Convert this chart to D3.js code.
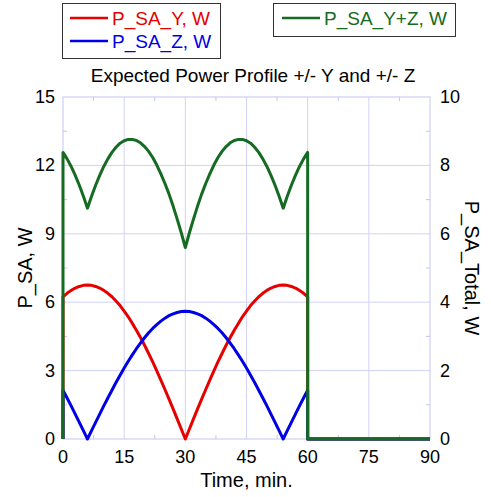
<!DOCTYPE html>
<html><head><meta charset="utf-8">
<script src="https://cdn.jsdelivr.net/npm/d3@7/dist/d3.min.js"></script>
<style>body{margin:0;background:#fff}svg{display:block}text{font-family:"Liberation Sans",Arial,sans-serif}</style>
</head><body><svg id="c" width="491" height="497"></svg>
<script>
// ---- data ----
const timeMin = [0,1,2,3,4,5,6,7,8,9,10,11,12,13,14,15,16,17,18,19,20,21,22,23,24,25,26,27,28,29,30,
  31,32,33,34,35,36,37,38,39,40,41,42,43,44,45,46,47,48,49,50,51,52,53,54,55,56,57,58,59,60];
const pY = [6.24,6.39,6.52,6.62,6.69,6.74,6.75,6.74,6.69,6.62,6.52,6.39,6.24,6.05,5.85,5.61,5.36,5.07,4.77,4.45,4.11,3.75,3.38,2.99,2.58,2.17,1.75,1.32,0.88,0.44,0,
  0.44,0.88,1.32,1.75,2.17,2.58,2.99,3.38,3.75,4.11,4.45,4.77,5.07,5.36,5.61,5.85,6.05,6.24,6.39,6.52,6.62,6.69,6.74,6.75,6.74,6.69,6.62,6.52,6.39,6.24];
const pZ = [2.14,1.80,1.45,1.09,0.73,0.37,0,0.37,0.73,1.09,1.45,1.80,2.14,2.48,2.80,3.11,3.41,3.69,3.96,4.21,4.44,4.66,4.85,5.02,5.17,5.30,5.41,5.49,5.55,5.59,5.60,
  5.59,5.55,5.49,5.41,5.30,5.17,5.02,4.85,4.66,4.44,4.21,3.96,3.69,3.41,3.11,2.80,2.48,2.14,1.80,1.45,1.09,0.73,0.37,0,0.37,0.73,1.09,1.45,1.80,2.14];
const pTotal = [8.38,8.19,7.97,7.71,7.42,7.10,6.75,7.10,7.42,7.71,7.97,8.19,8.38,8.53,8.65,8.72,8.76,8.76,8.73,8.66,8.55,8.41,8.23,8.01,7.75,7.47,7.16,6.81,6.43,6.03,5.60,
  6.03,6.43,6.81,7.16,7.47,7.75,8.01,8.23,8.41,8.55,8.66,8.73,8.76,8.76,8.72,8.65,8.53,8.38,8.19,7.97,7.71,7.42,7.10,6.75,7.10,7.42,7.71,7.97,8.19,8.38];
// power is zero before start and after the 60 min window
const offStart = [{t:0, v:0}];
const offEnd = [{t:60, v:0}, {t:90, v:0}];
const xTicks = [0,15,30,45,60,75,90];
const yLeftTicks = [0,3,6,9,12,15];
const yRightTicks = [0,2,4,6,8,10];
const seriesNames = ["P_SA_Y, W","P_SA_Z, W","P_SA_Y+Z, W"];
const colors = ["#e60000","#0000e6","#156b22"];

// ---- layout ----
const svg = d3.select("#c");
const L=63, R=430, T=97, B=439;
const x = d3.scaleLinear().domain([0,90]).range([L,R]);
const yL = d3.scaleLinear().domain([0,15]).range([B,T]);
const yR = d3.scaleLinear().domain([0,10]).range([B,T]);
const gridC = "#d2d2f6", frameC="#c4c4f2";

// grid
const g = svg.append("g");
xTicks.slice(1,-1).forEach(t=>g.append("line").attr("x1",x(t)).attr("x2",x(t)).attr("y1",T).attr("y2",B).attr("stroke",gridC).attr("stroke-width",1));
yLeftTicks.slice(1,-1).forEach(t=>g.append("line").attr("x1",L).attr("x2",R).attr("y1",yL(t)).attr("y2",yL(t)).attr("stroke",gridC).attr("stroke-width",1));
// minor ticks
const minorX = d3.range(7.5,90,15), minorY = d3.range(1.5,15,3);
minorX.forEach(t=>{g.append("line").attr("x1",x(t)).attr("x2",x(t)).attr("y1",B).attr("y2",B-4).attr("stroke",frameC);
  g.append("line").attr("x1",x(t)).attr("x2",x(t)).attr("y1",T).attr("y2",T+4).attr("stroke",frameC);});
minorY.forEach(t=>{g.append("line").attr("x1",L).attr("x2",L+4).attr("y1",yL(t)).attr("y2",yL(t)).attr("stroke",frameC);
  g.append("line").attr("x1",R).attr("x2",R-4).attr("y1",yL(t)).attr("y2",yL(t)).attr("stroke",frameC);});
g.append("rect").attr("x",L).attr("y",T).attr("width",R-L).attr("height",B-T).attr("fill","none").attr("stroke",frameC).attr("stroke-width",1);

// axes labels
const fs=18;
xTicks.forEach(t=>svg.append("text").attr("x",x(t)).attr("y",B+24).attr("text-anchor","middle").attr("font-size",fs).text(t));
yLeftTicks.forEach(t=>svg.append("text").attr("x",55).attr("y",yL(t)+6).attr("text-anchor","end").attr("font-size",fs).text(t));
yRightTicks.forEach(t=>svg.append("text").attr("x",440).attr("y",yR(t)+6).attr("text-anchor","start").attr("font-size",fs).text(t));
svg.append("text").attr("x",(L+R)/2).attr("y",487).attr("text-anchor","middle").attr("font-size",20).text("Time, min.");
svg.append("text").attr("transform",`translate(32,${(T+B)/2}) rotate(-90)`).attr("text-anchor","middle").attr("font-size",20).text("P_SA, W");
svg.append("text").attr("transform",`translate(465,${(T+B)/2}) rotate(90)`).attr("text-anchor","middle").attr("font-size",20).text("P_SA_Total, W");
svg.append("text").attr("x",253).attr("y",82).attr("text-anchor","middle").attr("font-size",19).text("Expected Power Profile +/- Y and +/- Z");

// lines
const build = vals => offStart.concat(timeMin.map((t,i)=>({t, v:vals[i]}))).concat(offEnd);
const lineL = d3.line().x(d=>x(d.t)).y(d=>yL(d.v));
const lineR = d3.line().x(d=>x(d.t)).y(d=>yR(d.v));
const plot = svg.append("g").attr("fill","none").attr("stroke-width",3).attr("stroke-linejoin","round");
plot.append("path").attr("d",lineL(build(pY))).attr("stroke",colors[0]);
plot.append("path").attr("d",lineL(build(pZ))).attr("stroke",colors[1]);
plot.append("path").attr("d",lineR(build(pTotal))).attr("stroke",colors[2]);

// legends
svg.append("rect").attr("x",62.5).attr("y",3.5).attr("width",158).attr("height",55).attr("fill","#fff").attr("stroke","#333");
svg.append("rect").attr("x",273.5).attr("y",3.5).attr("width",182).attr("height",33).attr("fill","#fff").attr("stroke","#333");
const leg = [{x:70,y:18,i:0},{x:70,y:41,i:1},{x:282,y:18,i:2}];
leg.forEach(d=>{
  svg.append("line").attr("x1",d.x).attr("x2",d.x+38).attr("y1",d.y).attr("y2",d.y).attr("stroke",colors[d.i]).attr("stroke-width",2.5);
  svg.append("text").attr("x",d.x+42).attr("y",d.y+7).attr("font-size",19).attr("fill",colors[d.i]).text(seriesNames[d.i]);
});
</script></body></html>
